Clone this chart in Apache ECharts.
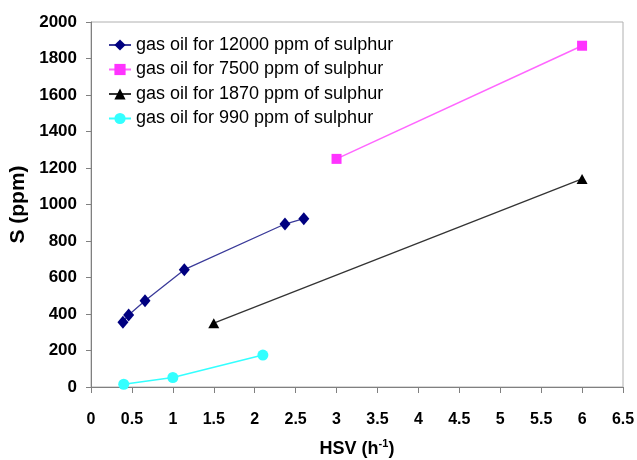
<!DOCTYPE html>
<html lang="en">
<head>
    <meta charset="utf-8">
    <title>S vs HSV</title>
    <script type="text/javascript" src="https://cdn.jsdelivr.net/npm/echarts@6/dist/echarts.min.js"></script>
    <style>
        html, body { margin: 0; padding: 0; background: #fff; }
    </style>
</head>
<body>
    <!-- chart container -->
    <div id="main" style="width: 637px;height:460px;"></div>

<script type="text/javascript">

    // data
    var seriesNames = ['gas oil for 12000 ppm of sulphur', 'gas oil for 7500 ppm of sulphur',
        'gas oil for 1870 ppm of sulphur', 'gas oil for 990 ppm of sulphur'];

    var hsv12000 = [0.39, 0.46, 0.66, 1.14, 2.37, 2.6];
    var s12000   = [355, 395, 473, 643, 893, 922];

    var hsv7500 = [3, 6];
    var s7500   = [1250, 1870];

    var hsv1870 = [1.5, 6];
    var s1870   = [350, 1140];

    var hsv990 = [0.4, 1.0, 2.1];
    var s990   = [15, 52, 175];

    function pairs(xs, ys) {
        var out = [];
        for (var i = 0; i < xs.length; i++) {
            out.push([xs[i], ys[i]]);
        }
        return out;
    }

    var myChart = echarts.init(document.getElementById("main"), null, {renderer: 'canvas'});

    var font = 'Liberation Sans, Arial, sans-serif';

    var option = {
        animation: false,
        textStyle: { fontFamily: font },
        grid: {
            left: 91,
            right: 14,
            top: 22,
            bottom: 73,
            containLabel: false,
            outerBoundsMode: 'none',
            show: true,
            borderColor: '#b0b0b0',
            borderWidth: 1
        },
        legend: {
            orient: 'vertical',
            left: 103,
            top: 31,
            itemWidth: 22,
            itemHeight: 14,
            itemGap: 6.5,
            textStyle: {
                fontFamily: font,
                fontSize: 18,
                color: '#000'
            },
            data: seriesNames
        },
        xAxis: {
            type: 'value',
            min: 0,
            max: 6.5,
            interval: 0.5,
            name: '{n|HSV (h}{s|-1}{n|)}',
            nameLocation: 'middle',
            nameGap: 51,
            nameTextStyle: {
                rich: {
                    n: { fontFamily: font, fontSize: 18, fontWeight: 'bold', color: '#000', lineHeight: 20, verticalAlign: 'bottom' },
                    s: { fontFamily: font, fontSize: 11, fontWeight: 'bold', color: '#000', lineHeight: 20, verticalAlign: 'top' }
                }
            },
            splitLine: { show: false },
            axisLine: { onZero: false, lineStyle: { color: '#808080', width: 1 } },
            axisTick: { show: true, length: 6, lineStyle: { color: '#808080' } },
            axisLabel: {
                margin: 25,
                fontFamily: font,
                fontSize: 16,
                fontWeight: 'bold',
                color: '#000'
            }
        },
        yAxis: {
            type: 'value',
            min: 0,
            max: 2000,
            interval: 200,
            name: 'S (ppm)',
            nameLocation: 'middle',
            nameGap: 62,
            nameTextStyle: {
                fontFamily: font,
                fontSize: 21,
                fontWeight: 'bold',
                color: '#000'
            },
            splitLine: { show: false },
            axisLine: { show: true, lineStyle: { color: '#808080', width: 1 } },
            axisTick: { show: true, length: 5, lineStyle: { color: '#808080' } },
            axisLabel: {
                margin: 14,
                fontFamily: font,
                fontSize: 17,
                fontWeight: 'bold',
                color: '#000',
                formatter: function (v) { return String(v); }
            }
        },
        series: [
            {
                name: seriesNames[0],
                type: 'line',
                data: pairs(hsv12000, s12000),
                symbol: 'diamond',
                symbolSize: [11, 13],
                itemStyle: { color: '#000080' },
                lineStyle: { color: '#3a3a99', width: 1.3 }
            },
            {
                name: seriesNames[1],
                type: 'line',
                data: pairs(hsv7500, s7500),
                symbol: 'rect',
                symbolSize: 10,
                itemStyle: { color: '#ff33ff' },
                lineStyle: { color: '#ff66ff', width: 1.5 }
            },
            {
                name: seriesNames[2],
                type: 'line',
                data: pairs(hsv1870, s1870),
                symbol: 'triangle',
                symbolSize: [11, 10],
                itemStyle: { color: '#000000' },
                lineStyle: { color: '#333333', width: 1.3 }
            },
            {
                name: seriesNames[3],
                type: 'line',
                data: pairs(hsv990, s990),
                symbol: 'circle',
                symbolSize: 11,
                itemStyle: { color: '#33ffff' },
                lineStyle: { color: '#33ffff', width: 1.5 }
            }
        ]
    };

    myChart.setOption(option);
</script>
</body>
</html>
